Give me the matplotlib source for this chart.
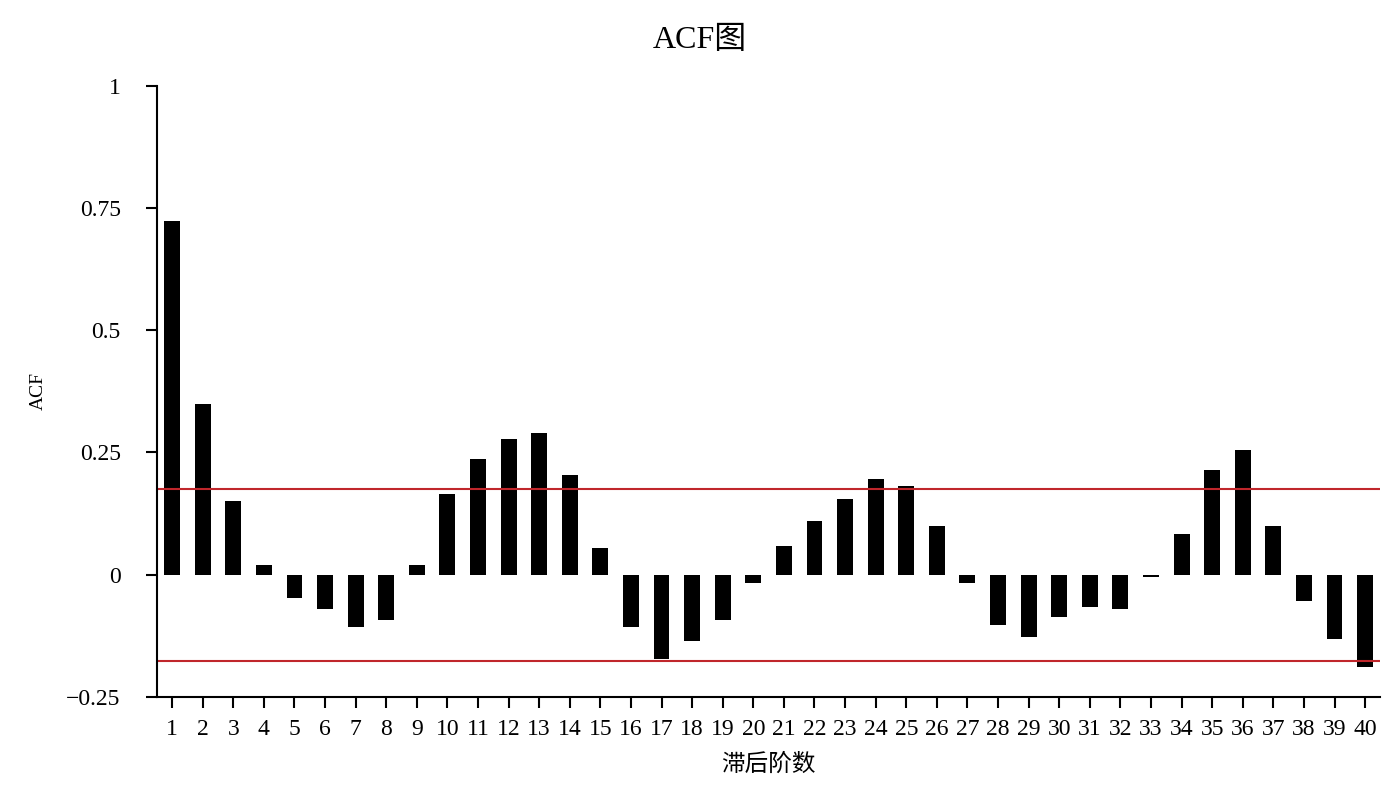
import matplotlib
matplotlib.use('Agg')
import matplotlib.pyplot as plt
import numpy as np

plt.rcParams['font.family'] = ['Liberation Serif', 'Noto Sans CJK SC', 'DejaVu Sans']

lags = list(range(1, 41))
acf = [0.723, 0.350, 0.150, 0.019, -0.047, -0.071, -0.108, -0.092, 0.019, 0.166,
       0.236, 0.277, 0.289, 0.203, 0.055, -0.108, -0.172, -0.136, -0.092, -0.017,
       0.059, 0.109, 0.154, 0.195, 0.182, 0.100, -0.017, -0.103, -0.127, -0.087,
       -0.066, -0.071, -0.004, 0.084, 0.215, 0.256, 0.100, -0.054, -0.132, -0.189]
conf = 0.176
yticks = [-0.25, 0, 0.25, 0.5, 0.75, 1]
ytick_labels = ['\u22120.25', '0', '0.25', '0.5', '0.75', '1']

fig = plt.figure(figsize=(14, 8), dpi=100)
ax = fig.add_axes([0.112, 0.129, 0.874, 0.7635])

ax.bar(lags, acf, width=0.52, color='black')
ax.axhline(conf, color='#c0262b', lw=1.5)
ax.axhline(-conf, color='#c0262b', lw=1.5)

ax.set_xlim(0.5, 40.5)
ax.set_ylim(-0.25, 1)
ax.set_xticks(lags)
ax.set_xticklabels([str(l) for l in lags], fontsize=17)
ax.set_yticks(yticks)
ax.set_yticklabels(ytick_labels, fontsize=17)
ax.tick_params(direction='out', length=8, width=1.5, colors='black')
ax.tick_params(axis='y', pad=18)
ax.tick_params(axis='x', pad=8)

for s in ['top', 'right']:
    ax.spines[s].set_visible(False)
for s in ['left', 'bottom']:
    ax.spines[s].set_linewidth(1.5)

ax.set_xlabel('滞后阶数', fontsize=17, labelpad=10)
ax.set_ylabel('ACF', fontsize=14, labelpad=14)
fig.suptitle('ACF图', fontsize=23, y=0.967)

fig.savefig('out.png', dpi=100, facecolor='white')
